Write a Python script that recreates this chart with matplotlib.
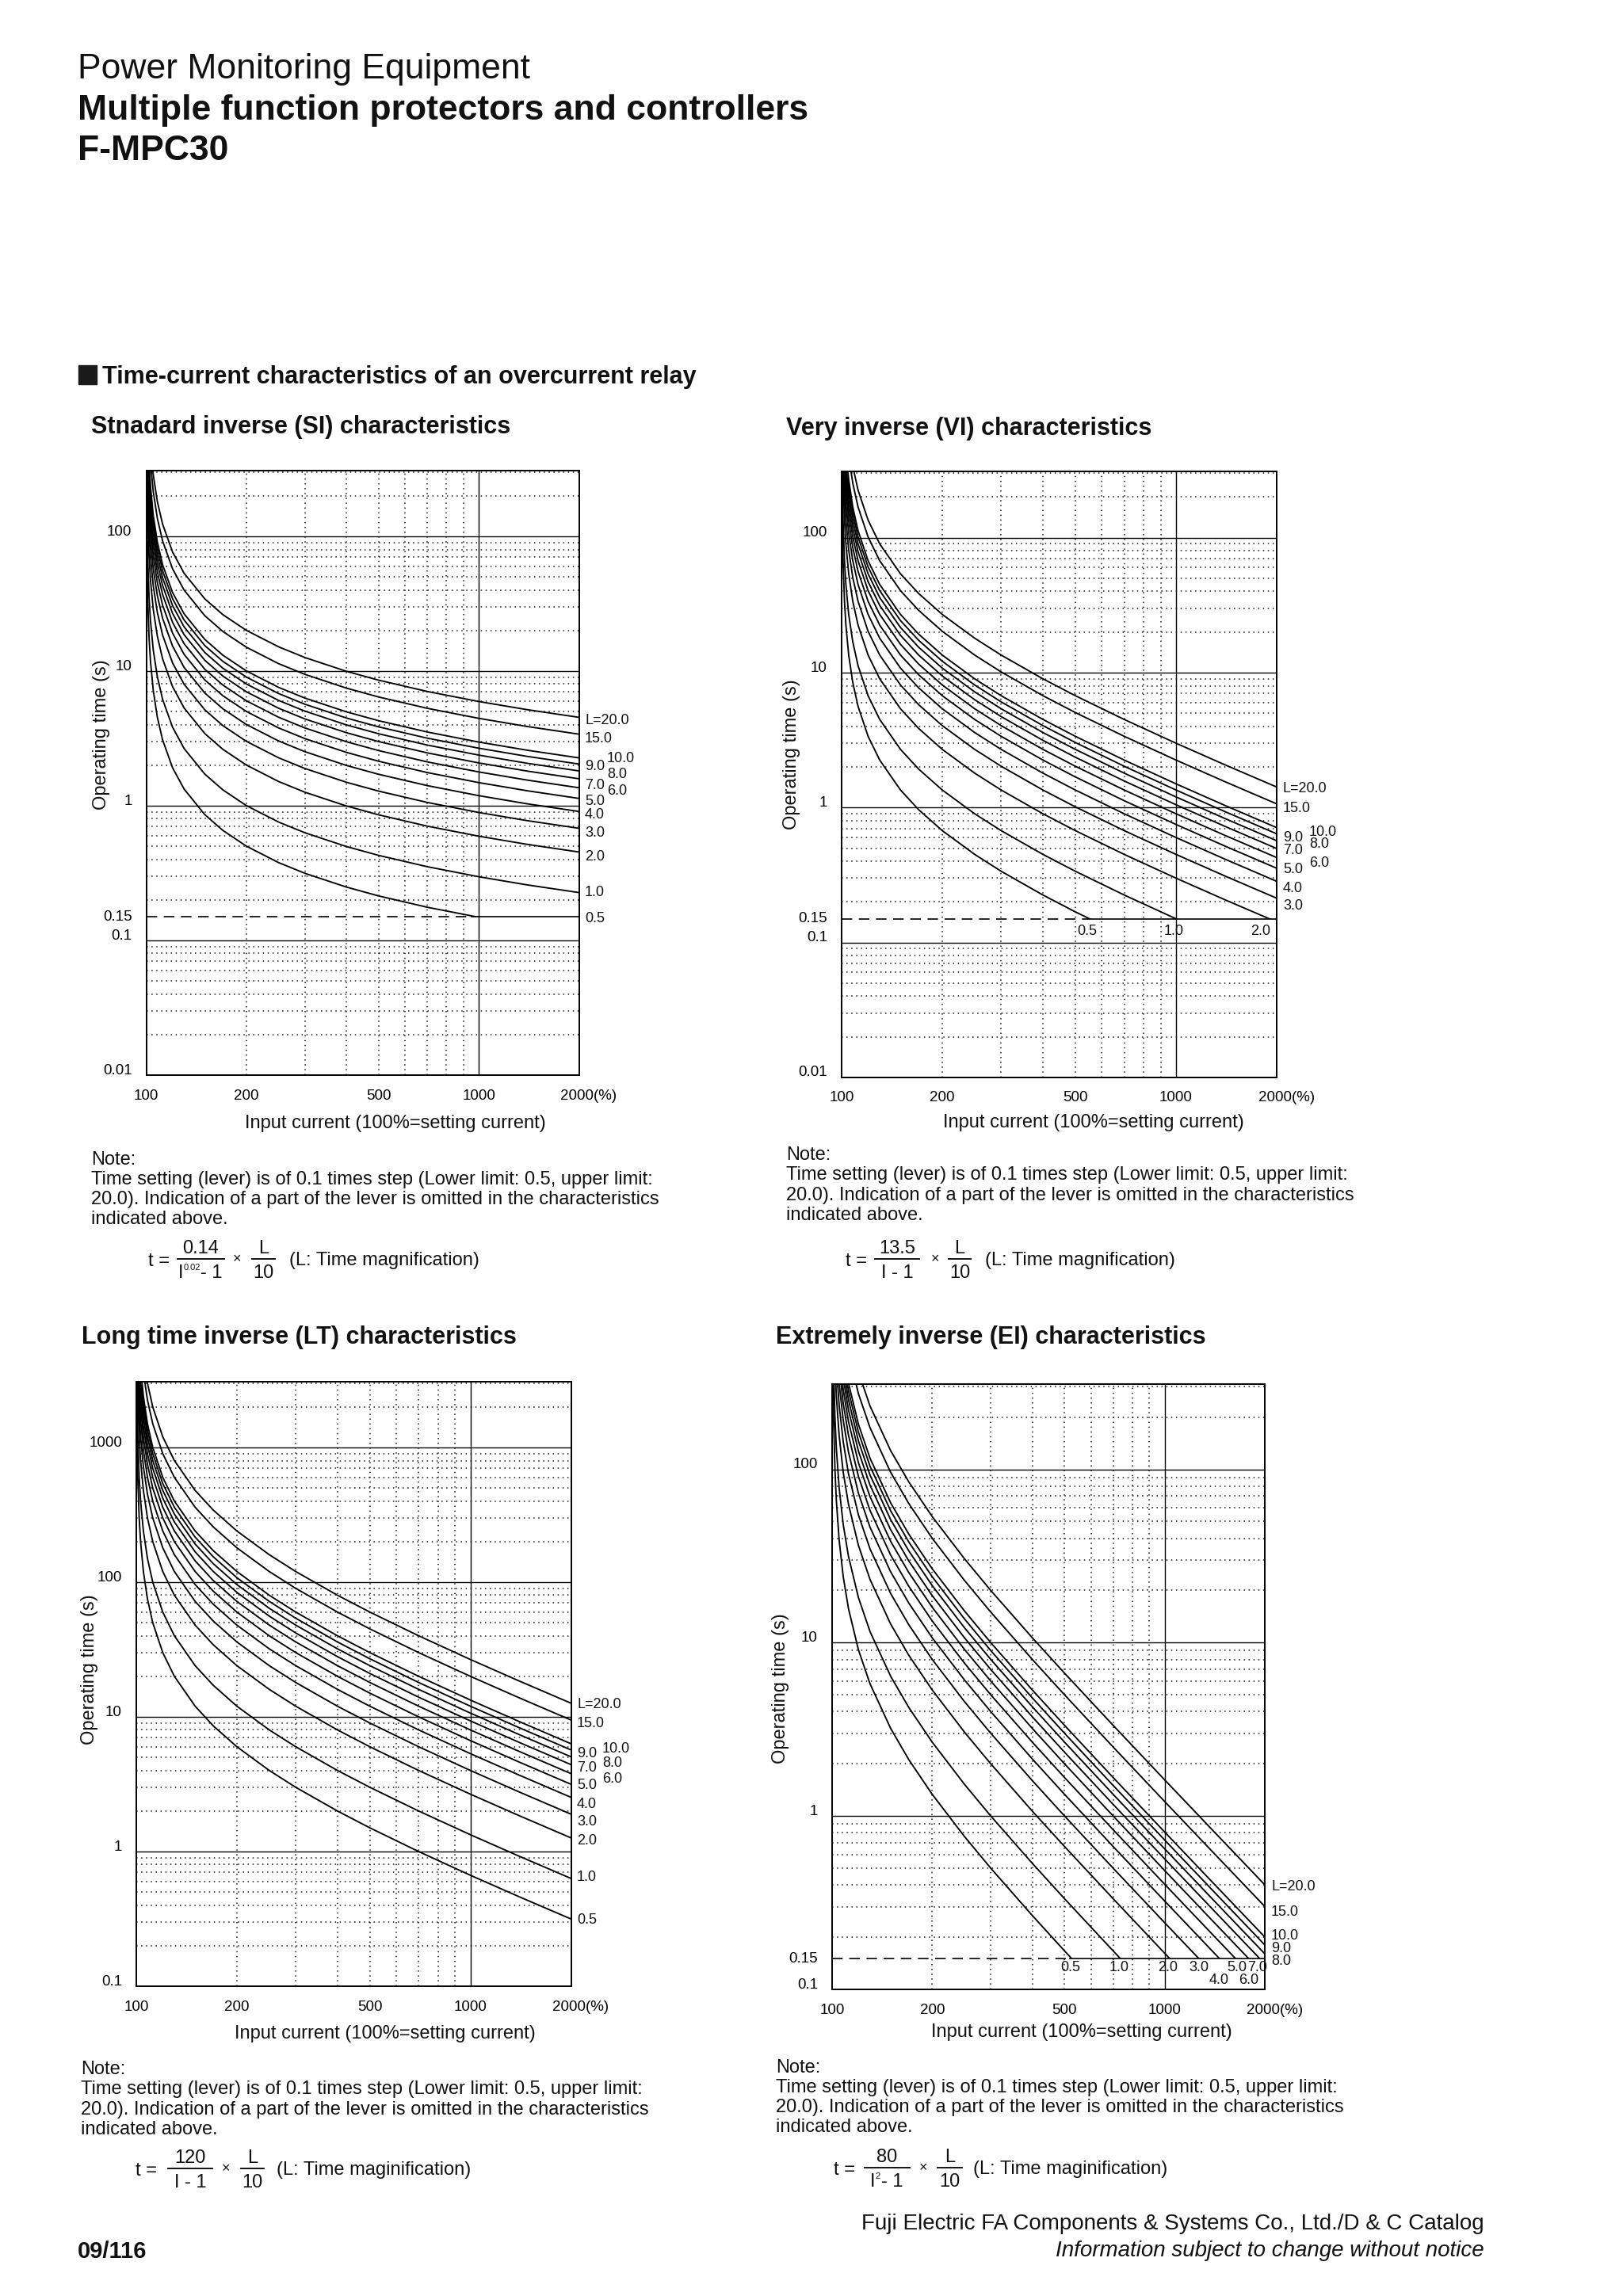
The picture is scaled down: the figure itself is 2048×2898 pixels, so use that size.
import numpy as np
import matplotlib
matplotlib.use('Agg')
import matplotlib.pyplot as plt
from matplotlib.lines import Line2D
from matplotlib.patches import Rectangle
from matplotlib.ticker import FixedLocator, LogLocator, NullFormatter
from matplotlib.transforms import offset_copy

plt.rcParams['font.family'] = ['Liberation Sans', 'DejaVu Sans']

# Input current (% of setting current) at which the curves were read
current_pct = [100.1, 100.3, 100.6, 101, 102, 103, 105, 108, 112, 120, 130, 150,
               170, 200, 250, 300, 400, 500, 700, 1000, 1400, 2000]
# Time lever settings drawn on every chart
lever = [20, 15, 10, 9, 8, 7, 6, 5, 4, 3, 2, 1, 0.5]

# Operating time (s) of the L=10 curve, read on each chart
si_t10 = [7003, 2337, 1170, 703.5, 353.4, 236.7, 143.4, 90.89, 61.70, 38.32, 26.61,
          17.19, 13.12, 10.03, 7.570, 6.302, 4.980, 4.280, 3.528, 2.971, 2.583, 2.267]
vi_t10 = [13500, 4500, 2250, 1350, 675, 450, 270, 168.8, 112.5, 67.5, 45.0,
          27.0, 19.29, 13.5, 9.0, 6.75, 4.5, 3.375, 2.25, 1.5, 1.038, 0.7105]
lt_t10 = [120000, 40000, 20000, 12000, 6000, 4000, 2400, 1500, 1000, 600, 400,
          240, 171.4, 120, 80, 60, 40, 30, 20, 13.33, 9.231, 6.316]
ei_t10 = [39980, 13313, 6647, 3980, 1980, 1314, 780.5, 480.8, 314.5, 181.8, 115.9,
          64.0, 42.33, 26.67, 15.24, 10.0, 5.333, 3.333, 1.667, 0.8081, 0.4103, 0.2005]

# definite minimum time and the current where the 0.5 curve meets it
min_time = 0.15
si_min_from = 950
vi_min_from = 545
ei_min_from = 520

x_ticks = [100, 200, 500, 1000, 2000]
si_yticks = [100, 10, 1, 0.15, 0.1, 0.01]
vi_yticks = [100, 10, 1, 0.15, 0.1, 0.01]
lt_yticks = [1000, 100, 10, 1, 0.1]
ei_yticks = [100, 10, 1, 0.15, 0.1]

W, H = 2048, 2898
fig = plt.figure(figsize=(W / 100, H / 100), dpi=100)
fig.patch.set_facecolor('white')


def page_text(x, y, s, **kw):
    kw.setdefault('ha', 'left')
    kw.setdefault('va', 'baseline')
    kw.setdefault('color', '#111111')
    fig.text(x / W, 1 - y / H, s, **kw)


def page_line(x0, x1, y, lw=1.3):
    fig.add_artist(Line2D([x0 / W, x1 / W], [1 - y / H, 1 - y / H],
                          transform=fig.transFigure, color='black', lw=lw))


def draw_chart(box, t10, ylim, yticks, min_from, levers_txt, bottom_txt, ylab_xy, xlab_xy):
    left, top, right, bottom = box
    ax = fig.add_axes([left / W, 1 - bottom / H, (right - left) / W, (bottom - top) / H])
    ax.set_xscale('log')
    ax.set_yscale('log')
    ax.set_xlim(100, 2000)
    ax.set_ylim(*ylim)
    ax.xaxis.set_major_locator(FixedLocator([1000]))
    ax.xaxis.set_minor_locator(FixedLocator([200, 300, 400, 500, 600, 700, 800, 900]))
    ax.yaxis.set_major_locator(LogLocator(base=10, numticks=20))
    ax.yaxis.set_minor_locator(LogLocator(base=10, subs=np.arange(2, 10), numticks=40))
    for a in (ax.xaxis, ax.yaxis):
        a.set_major_formatter(NullFormatter())
        a.set_minor_formatter(NullFormatter())
    ax.tick_params(which='both', length=0, labelbottom=False, labelleft=False)
    ax.grid(True, which='major', color='black', lw=1.0, ls='-')
    ax.grid(True, which='minor', color='#1a1a1a', lw=1.1, ls=(0, (1, 3)))
    for s in ax.spines.values():
        s.set_linewidth(1.4)

    clip = None
    if min_from is not None:
        clip = Rectangle((100, min_time), 1900, ylim[1] - min_time, transform=ax.transData)
        ax.plot([100, min_from], [min_time, min_time], color='black', lw=1.2, ls=(0, (8, 5)))
        ax.plot([min_from, 2000], [min_time, min_time], color='black', lw=1.2)

    for L in lever:
        t = np.array(t10) * L / 10
        ln, = ax.plot(current_pct, t, color='black', lw=1.35)
        if clip is not None:
            ln.set_clip_path(clip)

    # tick labels
    xt = offset_copy(ax.get_xaxis_transform(), fig=fig, x=0, y=-26, units='dots')
    for v in x_ticks[:-1]:
        ax.text(v, 0, str(v), transform=xt, ha='center', va='center', fontsize=13.5)
    xt2 = offset_copy(ax.get_xaxis_transform(), fig=fig, x=-23, y=-26, units='dots')
    ax.text(2000, 0, '2000(%)', transform=xt2, ha='left', va='center', fontsize=13.5)
    for v in yticks:
        dy = 0 if v == min_time else 6
        yt = offset_copy(ax.get_yaxis_transform(), fig=fig, x=-18, y=dy, units='dots')
        ax.text(0, v, f'{v:g}', transform=yt, ha='right', va='center', fontsize=13.5)

    for s, x, y in levers_txt:
        page_text(x, y, s, va='center', fontsize=13)
    for s, x, y in bottom_txt:
        page_text(x, y, s, ha='center', va='center', fontsize=13)

    page_text(ylab_xy[0], ylab_xy[1], 'Operating time (s)', rotation=90,
              ha='center', va='center', fontsize=17)
    page_text(xlab_xy[0], xlab_xy[1], 'Input current (100%=setting current)',
              ha='center', va='center', fontsize=17)
    return ax


note_lines = ['Note:',
              'Time setting (lever) is of 0.1 times step (Lower limit: 0.5, upper limit:',
              '20.0). Indication of a part of the lever is omitted in the characteristics',
              'indicated above.']


def note_block(x, y0, step):
    for i, s in enumerate(note_lines):
        page_text(x, y0 + i * step, s, fontsize=17)


def formula(x_t, bar1, bar2, x_times, y_bar, num, den, tail, x_tail, sup=None):
    page_text(x_t, y_bar + 9, 't =', fontsize=17)
    page_line(bar1[0], bar1[1], y_bar)
    page_text((bar1[0] + bar1[1]) / 2, y_bar - 7, num, ha='center', fontsize=17)
    if sup is None:
        page_text((bar1[0] + bar1[1]) / 2, y_bar + 24, den, ha='center', fontsize=17)
    else:
        # I with a small exponent, then "- 1"
        xi, xs, xr, stxt = sup
        page_text(xi, y_bar + 24, 'I', fontsize=17)
        page_text(xs, y_bar + 14, stxt, fontsize=8)
        page_text(xr, y_bar + 24, '- 1', fontsize=17)
    page_text(x_times, y_bar + 1, '\u00d7', ha='center', va='center', fontsize=13)
    page_line(bar2[0], bar2[1], y_bar)
    page_text((bar2[0] + bar2[1]) / 2, y_bar - 7, 'L', ha='center', fontsize=17)
    page_text((bar2[0] + bar2[1]) / 2, y_bar + 24, '10', ha='center', fontsize=17)
    page_text(x_tail, y_bar + 8, tail, fontsize=17)


# header
page_text(98, 99, 'Power Monitoring Equipment', fontsize=32)
page_text(98, 151, 'Multiple function protectors and controllers', fontsize=32, weight='bold')
page_text(98, 202, 'F-MPC30', fontsize=32, weight='bold')
fig.add_artist(Rectangle((99 / W, 1 - 485 / H), 23 / W, 24 / H,
                         transform=fig.transFigure, color='#1a1a1a'))
page_text(129, 484, 'Time-current characteristics of an overcurrent relay',
          fontsize=22, weight='bold')

# chart titles
page_text(115, 547, 'Stnadard inverse (SI) characteristics', fontsize=22, weight='bold')
page_text(992, 549, 'Very inverse (VI) characteristics', fontsize=22, weight='bold')
page_text(103, 1696, 'Long time inverse (LT) characteristics', fontsize=22, weight='bold')
page_text(979, 1696, 'Extremely inverse (EI) characteristics', fontsize=22, weight='bold')

# Standard inverse
draw_chart((184.5, 593.5, 730.5, 1357), si_t10, (0.01, 310), si_yticks, si_min_from,
           [('L=20.0', 738, 909), ('15.0', 738, 932), ('10.0', 766, 958), ('9.0', 738, 967),
            ('8.0', 766, 978), ('7.0', 738, 991), ('6.0', 766, 998), ('5.0', 738, 1012),
            ('4.0', 738, 1028), ('3.0', 738, 1051), ('2.0', 738, 1081), ('1.0', 738, 1127),
            ('0.5', 738, 1159)],
           [], (128, 927), (499, 1418))
note_block(115, 1470, 25)
formula(187, (224, 283), (318, 347), 299, 1589, '0.14', None,
        '(L: Time magnification)', 365, sup=(225, 232, 253, '0.02'))

# Very inverse
draw_chart((1062, 595, 1611, 1360), vi_t10, (0.01, 310), vi_yticks, vi_min_from,
           [('L=20.0', 1619, 996), ('15.0', 1619, 1020), ('10.0', 1652, 1050),
            ('9.0', 1619, 1057), ('8.0', 1652, 1066), ('7.0', 1619, 1073),
            ('6.0', 1652, 1089), ('5.0', 1619, 1097), ('4.0', 1619, 1122),
            ('3.0', 1619, 1144)],
           [('0.5', 1372, 1176), ('1.0', 1481, 1176), ('2.0', 1591, 1176)],
           (999, 952), (1380, 1417))
note_block(992, 1464, 25.5)
formula(1067, (1104, 1160), (1197, 1225), 1180, 1589, '13.5', 'I - 1',
        '(L: Time magnification)', 1243)

# Long time inverse
draw_chart((172, 1743.5, 720.5, 2507), lt_t10, (0.1, 3100), lt_yticks, None,
           [('L=20.0', 728, 2152), ('15.0', 728, 2175), ('10.0', 760, 2207),
            ('9.0', 728, 2214), ('8.0', 760, 2225), ('7.0', 728, 2231),
            ('6.0', 760, 2245), ('5.0', 728, 2253), ('4.0', 728, 2278),
            ('3.0', 728, 2300), ('2.0', 728, 2323), ('1.0', 728, 2370),
            ('0.5', 728, 2424)],
           [], (113, 2107), (486, 2567))
note_block(102, 2618, 25.5)
formula(171, (212, 268), (304, 333), 285, 2737, '120', 'I - 1',
        '(L: Time maginification)', 349)

# Extremely inverse
draw_chart((1050, 1747, 1596, 2511), ei_t10, (0.1, 310), ei_yticks, ei_min_from,
           [('L=20.0', 1604, 2382), ('15.0', 1604, 2413), ('10.0', 1604, 2444),
            ('9.0', 1604, 2460), ('8.0', 1604, 2475)],
           [('0.5', 1351, 2483), ('1.0', 1412, 2483), ('2.0', 1474, 2483),
            ('3.0', 1513, 2483), ('5.0', 1561, 2483), ('7.0', 1587, 2483),
            ('4.0', 1538, 2500), ('6.0', 1576, 2500)],
           (985, 2131), (1365, 2565))
note_block(979, 2616, 25)
formula(1052, (1091, 1148), (1183, 1214), 1165, 2736, '80', None,
        '(L: Time maginification)', 1228, sup=(1098, 1104, 1112, '2'))

# footer
page_text(1873, 2814, 'Fuji Electric FA Components & Systems Co., Ltd./D & C Catalog',
          ha='right', fontsize=20)
page_text(1873, 2848, 'Information subject to change without notice',
          ha='right', fontsize=20, style='italic')
page_text(98, 2850, '09/116', fontsize=21, weight='bold')

fig.savefig('out.png', dpi=100)
